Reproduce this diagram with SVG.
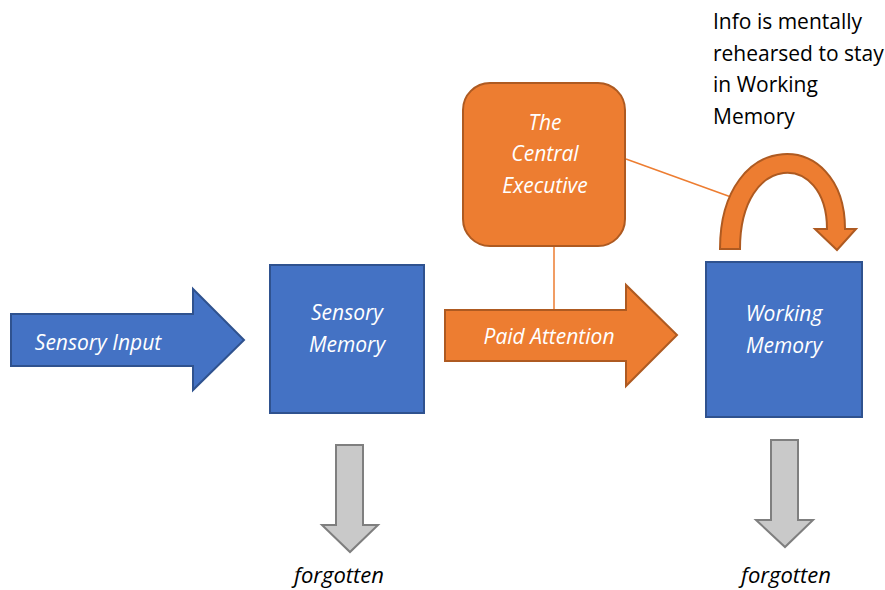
<svg xmlns="http://www.w3.org/2000/svg" width="885" height="590" viewBox="0 0 885 590">
<style>
.blue{fill:#4472c4;stroke:#2f528f;stroke-width:2}
.orange{fill:#ed7d31;stroke:#ae5a21;stroke-width:2}
.grey{fill:#c9c9c9;stroke:#7f7f7f;stroke-width:2}
.conn{stroke:#ed7d31;stroke-width:1.5;fill:none}
.wt{font-family:"Open Sans","Noto Sans",sans-serif;font-style:italic;font-size:21px;fill:#ffffff;text-anchor:middle}
.bt{font-family:"Open Sans","Noto Sans",sans-serif;font-style:italic;font-size:22px;fill:#000000;text-anchor:middle}
.note{font-family:"Open Sans","Noto Sans",sans-serif;font-size:21px;fill:#000000}
</style>
<rect width="885" height="590" fill="#ffffff"/>
<g id="connectors">
<line class="conn" x1="554" y1="246" x2="554" y2="311"/>
<line class="conn" x1="626" y1="159" x2="731" y2="197"/>
</g>
<g id="sensory-input">
<path class="blue" d="M11,314 L193,314 L193,289 L244,340 L193,390 L193,366 L11,366 Z"/>
<text class="wt" x="98" y="350">Sensory Input</text>
</g>
<g id="sensory-memory">
<rect class="blue" x="270" y="265" width="154" height="148"/>
<text class="wt" x="347" y="320">Sensory</text>
<text class="wt" x="347" y="352">Memory</text>
</g>
<g id="central-executive">
<rect class="orange" x="463" y="83" width="162" height="163" rx="27" ry="27"/>
<text class="wt" x="545" y="130">The</text>
<text class="wt" x="545" y="161">Central</text>
<text class="wt" x="545" y="193">Executive</text>
</g>
<g id="paid-attention">
<path class="orange" d="M445,310 L626,310 L626,285 L677,335 L626,386 L626,361 L445,361 Z"/>
<text class="wt" x="549" y="344">Paid Attention</text>
</g>
<g id="working-memory">
<rect class="blue" x="706" y="262" width="156" height="155"/>
<text class="wt" x="784" y="321">Working</text>
<text class="wt" x="784" y="353">Memory</text>
</g>
<g id="rehearsal-arrow">
<path class="orange" d="M720,249 C720,126 845,126 845,229 L856,229 L837,250 L815,229 L827,229 C827,151 740,151 740,249 Z"/>
</g>
<g id="rehearsal-note">
<text class="note" x="713" y="29">Info is mentally</text>
<text class="note" x="713" y="61">rehearsed to stay</text>
<text class="note" x="713" y="92">in Working</text>
<text class="note" x="713" y="124">Memory</text>
</g>
<g id="forgotten-1">
<path class="grey" d="M336,445 L363,445 L363,525 L378,525 L350,552 L322,525 L336,525 Z"/>
<text class="bt" x="339" y="583">forgotten</text>
</g>
<g id="forgotten-2">
<path class="grey" d="M771,440 L798,440 L798,520 L813,520 L785,547 L756,520 L771,520 Z"/>
<text class="bt" x="786" y="583">forgotten</text>
</g>
</svg>
